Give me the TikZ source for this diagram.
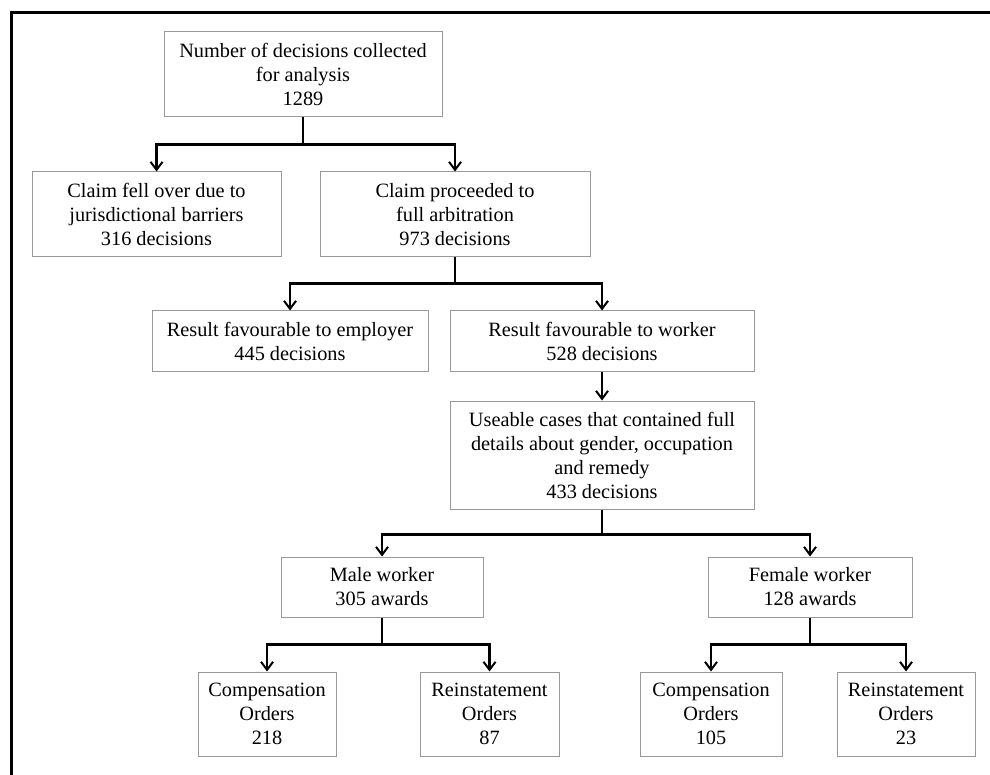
\documentclass[tikz,border=0pt]{standalone}
\usepackage{fontspec}
\setmainfont{Liberation Serif}
\usetikzlibrary{arrows.meta}

\begin{document}
\begin{tikzpicture}[x=1pt, y=-1pt,
    box/.style={draw=black!40, line width=1pt, align=center, inner sep=0pt,
                font=\fontsize{20.3}{24}\selectfont},
    stem/.style={line width=2.4pt},
    arr/.style={line width=2.4pt, -{Straight Barb[length=8pt, width=12pt, line width=2pt]}}]
  \useasboundingbox (0,0) rectangle (990,775);
  % frame
  \draw[line width=3pt] (11,775) -- (11,13) -- (990,13);

  \node[box, minimum width=278pt, minimum height=85pt] (top) at (303,74.5)
        {Number of decisions collected\\ for analysis\\ 1289};
  \node[box, minimum width=249pt, minimum height=85pt] (fell) at (156.5,214.5)
        {Claim fell over due to\\ jurisdictional barriers\\ 316 decisions};
  \node[box, minimum width=270pt, minimum height=85pt] (proc) at (455,214.5)
        {Claim proceeded to\\ full arbitration\\ 973 decisions};
  \node[box, minimum width=276pt, minimum height=60pt] (emp) at (290,341)
        {Result favourable to employer\\ 445 decisions};
  \node[box, minimum width=304pt, minimum height=60pt] (wrk) at (602,341)
        {Result favourable to worker\\ 528 decisions};
  \node[box, minimum width=304pt, minimum height=108pt] (use) at (602,455)
        {Useable cases that contained full\\ details about gender, occupation\\ and remedy\\ 433 decisions};
  \node[box, minimum width=202pt, minimum height=60pt] (male) at (382,587)
        {Male worker\\ 305 awards};
  \node[box, minimum width=204pt, minimum height=60pt] (fem) at (810,587)
        {Female worker\\ 128 awards};
  \node[box, minimum width=138pt, minimum height=84pt] (mcomp) at (267,714)
        {Compensation\\ Orders\\ 218};
  \node[box, minimum width=139pt, minimum height=84pt] (mrein) at (489.5,714)
        {Reinstatement\\ Orders\\ 87};
  \node[box, minimum width=142pt, minimum height=84pt] (fcomp) at (711,714)
        {Compensation\\ Orders\\ 105};
  \node[box, minimum width=138pt, minimum height=84pt] (frein) at (906,714)
        {Reinstatement\\ Orders\\ 23};

  % branches
  \draw[stem] (top.south) -- ++(0,27) coordinate (j1);
  \draw[arr] (j1) -| (fell.north);
  \draw[arr] (j1) -| (proc.north);
  \draw[stem] (proc.south) -- ++(0,26) coordinate (j2);
  \draw[arr] (j2) -| (emp.north);
  \draw[arr] (j2) -| (wrk.north);
  \draw[arr] (wrk.south) -- (use.north);
  \draw[stem] (use.south) -- ++(0,25) coordinate (j3);
  \draw[arr] (j3) -| (male.north);
  \draw[arr] (j3) -| (fem.north);
  \draw[stem] (male.south) -- ++(0,27) coordinate (j4);
  \draw[arr] (j4) -| (mcomp.north);
  \draw[arr] (j4) -| (mrein.north);
  \draw[stem] (fem.south) -- ++(0,27) coordinate (j5);
  \draw[arr] (j5) -| (fcomp.north);
  \draw[arr] (j5) -| (frein.north);
\end{tikzpicture}
\end{document}
